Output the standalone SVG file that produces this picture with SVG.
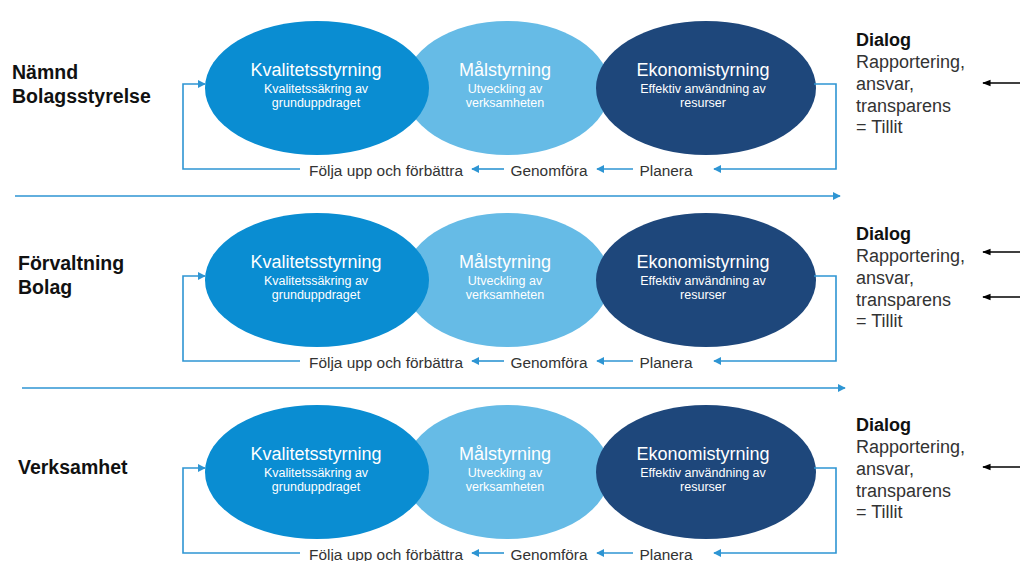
<svg xmlns="http://www.w3.org/2000/svg" width="1020" height="561" viewBox="0 0 1020 561">
<defs>
<marker id="ab" viewBox="0 0 10 10" refX="9" refY="5" markerWidth="5" markerHeight="5" orient="auto"><path d="M0,0 L10,5 L0,10 z" fill="#2E95D3"/></marker>
<marker id="ak" viewBox="0 0 10 10" refX="9" refY="5" markerWidth="6" markerHeight="6" orient="auto"><path d="M0,1 L10,5 L0,9 z" fill="#000"/></marker>
<style>
.e1{fill:#0A8DD2}.e2{fill:#66BBE6}.e3{fill:#1E477B}
.t{font-family:"Liberation Sans",Arial,sans-serif;fill:#fff;text-anchor:middle}
.h{font-size:18px}.s{font-size:12.5px}
.c{font-family:"Liberation Sans",Arial,sans-serif;font-size:15.4px;fill:#333;text-anchor:middle}
.lb{font-family:"Liberation Sans",Arial,sans-serif;font-size:19.5px;font-weight:bold;fill:#111}
.d{font-family:"Liberation Sans",Arial,sans-serif;font-size:18px;fill:#333}
.db{font-weight:bold;fill:#111}
.bl{stroke:#2E95D3;stroke-width:1.6;fill:none}
.bk{stroke:#000;stroke-width:1.4;fill:none}
</style>
<g id="cycle">
<ellipse class="e2" cx="507" cy="88" rx="103" ry="67"/>
<ellipse class="e1" cx="317" cy="88" rx="112" ry="67"/>
<ellipse class="e3" cx="706" cy="88" rx="110" ry="67"/>
<text class="t h" x="316" y="76">Kvalitetsstyrning</text>
<text class="t s" x="316" y="93">Kvalitetssäkring av</text>
<text class="t s" x="316" y="107">grunduppdraget</text>
<text class="t h" x="505" y="76">Målstyrning</text>
<text class="t s" x="505" y="93">Utveckling av</text>
<text class="t s" x="505" y="107">verksamheten</text>
<text class="t h" x="703" y="76">Ekonomistyrning</text>
<text class="t s" x="703" y="93">Effektiv användning av</text>
<text class="t s" x="703" y="107">resurser</text>
<text class="c" x="666" y="176">Planera</text>
<text class="c" x="549" y="176">Genomföra</text>
<text class="c" x="386" y="176">Följa upp och förbättra</text>
<path class="bl" d="M814,84 H836 V169 H714" marker-end="url(#ab)"/>
<path class="bl" d="M633,169 H597" marker-end="url(#ab)"/>
<path class="bl" d="M504,169 H472" marker-end="url(#ab)"/>
<path class="bl" d="M300,169 H183 V84 H205" marker-end="url(#ab)"/>
</g>
</defs>
<g id="row1">
<use href="#cycle"/>
<text class="lb" x="12" y="79">Nämnd</text>
<text class="lb" x="12" y="103">Bolagsstyrelse</text>
<text class="d db" x="856" y="46">Dialog</text>
<text class="d" x="856" y="68">Rapportering,</text>
<text class="d" x="856" y="90">ansvar,</text>
<text class="d" x="856" y="112">transparens</text>
<text class="d" x="856" y="133">= Tillit</text>
</g>
<g id="row2" transform="translate(0,192)">
<use href="#cycle"/>
<text class="lb" x="18" y="78">Förvaltning</text>
<text class="lb" x="18" y="102">Bolag</text>
<text class="d db" x="856" y="48">Dialog</text>
<text class="d" x="856" y="70">Rapportering,</text>
<text class="d" x="856" y="92">ansvar,</text>
<text class="d" x="856" y="114">transparens</text>
<text class="d" x="856" y="135">= Tillit</text>
</g>
<g id="row3" transform="translate(0,384)">
<use href="#cycle"/>
<text class="lb" x="18" y="90">Verksamhet</text>
<text class="d db" x="856" y="47">Dialog</text>
<text class="d" x="856" y="69">Rapportering,</text>
<text class="d" x="856" y="91">ansvar,</text>
<text class="d" x="856" y="113">transparens</text>
<text class="d" x="856" y="134">= Tillit</text>
</g>
<g id="connectors">
<path class="bl" d="M15,196 H840" marker-end="url(#ab)"/>
<path class="bl" d="M22,388 H845" marker-end="url(#ab)"/>
<path class="bk" d="M1020,83 H983" marker-end="url(#ak)"/>
<path class="bk" d="M1020,252 H983" marker-end="url(#ak)"/>
<path class="bk" d="M1020,297 H983" marker-end="url(#ak)"/>
<path class="bk" d="M1020,467 H983" marker-end="url(#ak)"/>
</g>
</svg>
